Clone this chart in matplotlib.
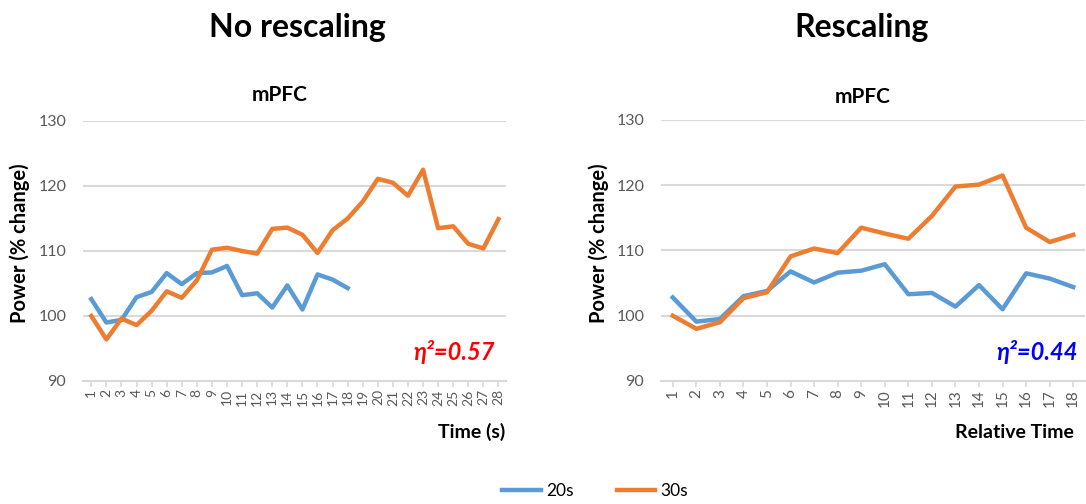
import matplotlib.pyplot as plt

plt.rcParams['font.family'] = ['Lato', 'DejaVu Sans']

# no rescaling: time in seconds
time_s = list(range(1, 29))
nr_20s = [102.6, 99.0, 99.4, 102.9, 103.7, 106.6, 104.9, 106.6, 106.7, 107.7,
          103.2, 103.5, 101.3, 104.7, 101.0, 106.4, 105.6, 104.3]
nr_30s = [100.0, 96.4, 99.6, 98.6, 100.8, 103.8, 102.8, 105.5, 110.2, 110.5,
          110.0, 109.6, 113.4, 113.6, 112.5, 109.7, 113.2, 115.0, 117.6, 121.1,
          120.5, 118.5, 122.5, 113.5, 113.8, 111.1, 110.4, 114.9]

# rescaling: relative time
rel_time = list(range(1, 19))
r_20s = [102.8, 99.1, 99.5, 103.0, 103.8, 106.8, 105.1, 106.6, 106.9, 107.9,
         103.3, 103.5, 101.4, 104.7, 101.0, 106.5, 105.7, 104.4]
r_30s = [100.0, 98.0, 99.0, 102.7, 103.6, 109.1, 110.3, 109.6, 113.5, 112.6,
         111.8, 115.3, 119.8, 120.1, 121.5, 113.5, 111.3, 112.4]

yticks = [90, 100, 110, 120, 130]
blue = '#5B9BD5'
orange = '#ED7D31'
grey_txt = '#595959'
grid_c = '#D9D9D9'

W, H = 1086, 504
fig = plt.figure(figsize=(W / 100, H / 100), dpi=100)


def px_axes(x0, y0, x1, y1):
    return fig.add_axes([x0 / W, 1 - y1 / H, (x1 - x0) / W, (y1 - y0) / H])


def style(ax, x, xlim, xfs):
    ax.set_ylim(90, 130)
    ax.set_xlim(*xlim)
    ax.set_yticks(yticks)
    ax.set_xticks(x)
    ax.set_xticklabels([str(v) for v in x], rotation=90, fontsize=xfs, color=grey_txt)
    ax.tick_params(axis='y', length=0, labelsize=11.5, labelcolor=grey_txt, pad=12)
    ax.tick_params(axis='x', length=4, color=grid_c, width=1.2, pad=2)
    ax.grid(axis='y', color=grid_c, lw=1.5)
    ax.set_axisbelow(True)
    for s in ['top', 'right', 'left']:
        ax.spines[s].set_visible(False)
    ax.spines['bottom'].set_color(grid_c)
    ax.spines['bottom'].set_linewidth(1.5)


ax1 = px_axes(83, 121, 506, 381)
l1, = ax1.plot(time_s[:len(nr_20s)], nr_20s, color=blue, lw=3.2, label='20s')
l2, = ax1.plot(time_s, nr_30s, color=orange, lw=3.2, label='30s')
style(ax1, time_s, (0.45, 28.5), 10)

ax2 = px_axes(661, 120, 1085, 381)
ax2.plot(rel_time, r_20s, color=blue, lw=3.2)
ax2.plot(rel_time, r_30s, color=orange, lw=3.2)
style(ax2, rel_time, (0.5, 18.5), 11)

fig.text(297 / W, 1 - 28 / H, 'No rescaling', ha='center', va='center',
         fontsize=23, fontweight='bold')
fig.text(862 / W, 1 - 28 / H, 'Rescaling', ha='center', va='center',
         fontsize=23, fontweight='bold')
fig.text(280 / W, 1 - 95 / H, 'mPFC', ha='center', va='center',
         fontsize=15, fontweight='bold')
fig.text(863 / W, 1 - 97 / H, 'mPFC', ha='center', va='center',
         fontsize=15, fontweight='bold')
fig.text(20 / W, 1 - 243 / H, 'Power (% change)', rotation=90, ha='center',
         va='center', fontsize=14.5, fontweight='bold')
fig.text(599 / W, 1 - 243 / H, 'Power (% change)', rotation=90, ha='center',
         va='center', fontsize=14.5, fontweight='bold')
fig.text(505 / W, 1 - 432 / H, 'Time (s)', ha='right', va='center',
         fontsize=14, fontweight='bold')
fig.text(1074 / W, 1 - 432 / H, 'Relative Time', ha='right', va='center',
         fontsize=14, fontweight='bold')
fig.text(495 / W, 1 - 352 / H, 'η²=0.57', ha='right', va='center',
         fontsize=17, fontweight='bold', style='italic', color='#FF0000')
fig.text(1078 / W, 1 - 352 / H, 'η²=0.44', ha='right', va='center',
         fontsize=17, fontweight='bold', style='italic', color='#0000FF')

fig.legend([l1, l2], ['20s', '30s'], loc='center', bbox_to_anchor=(595 / W, 1 - 491 / H),
           ncol=2, frameon=False, fontsize=12.5, handlelength=2.2, handletextpad=0.3,
           columnspacing=2.5)

fig.savefig('out.png', dpi=100)
